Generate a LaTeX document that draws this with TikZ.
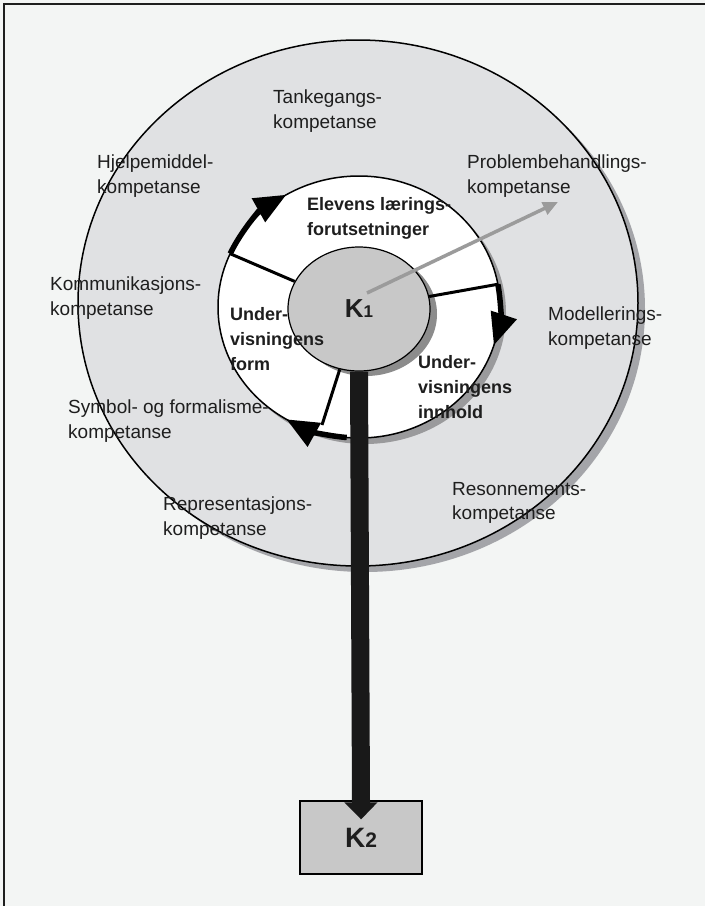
\documentclass[tikz,border=0pt]{standalone}
\usepackage{fontspec}
\setmainfont{Liberation Sans}
\usetikzlibrary{arrows.meta,shapes.geometric,calc}
\definecolor{bg}{HTML}{F3F5F4}
\definecolor{outerfill}{HTML}{E0E1E3}
\definecolor{outershadow}{HTML}{A4A5A9}
\definecolor{ringshadow}{HTML}{9A9A9C}
\definecolor{kfill}{HTML}{C8C8C8}
\definecolor{kshadow}{HTML}{8C8C8C}
\definecolor{txt}{HTML}{1E1E1E}
\definecolor{grayarrow}{HTML}{9B9B9B}
\begin{document}
\begin{tikzpicture}[x=1pt,y=1pt,
  lbl/.style={anchor=north west, inner sep=0pt, align=left, text=txt,
    font=\fontsize{19}{24.5}\selectfont},
  blbl/.style={anchor=north west, inner sep=0pt, align=left, text=txt,
    font=\fontsize{18}{25}\selectfont\bfseries},
  spoke/.style={draw=black, line width=3pt},
  ringarrow/.style={draw=black, line width=5.5pt,
    -{Triangle[length=32pt,width=26pt]}},
  bigarrow/.style={draw=black!90, line width=18pt,
    -{Triangle[length=17pt,width=32pt]}},
  kbox/.style={draw=black, line width=1.2pt, fill=kfill, inner sep=0pt, text=txt}
]
\useasboundingbox (0,0) rectangle (705,-906);
\fill[bg] (0,0) rectangle (705,-906);
% frame (top and left only)
\draw[line width=2.5pt, txt] (4,-906) -- (4,-4) -- (705,-4);

% outer ellipse with shadow
\fill[outershadow] (365,-309) ellipse [x radius=280, y radius=263];
\filldraw[fill=outerfill, draw=black, line width=1.5pt] (358,-303) ellipse [x radius=280, y radius=263];

% inner white ring with shadow
\coordinate (c) at (359,-307);
\fill[ringshadow] (365,-313) ellipse [x radius=141, y radius=131];
\filldraw[fill=white, draw=black, line width=1.5pt] (c) ellipse [x radius=141, y radius=131];

% K1 shadow
\fill[kshadow] (366,-314) ellipse [x radius=71, y radius=62];

% ring points
\coordinate (s1) at ($(c)+(156:141 and 131)$);
\coordinate (s2) at ($(c)+(10:141 and 131)$);
\coordinate (s3) at ($(c)+(-95:141 and 131)$);
\coordinate (b3) at (322,-425);

% K1 and K2
\node[kbox, ellipse, minimum width=142pt, minimum height=124pt] (K1) at (359,-309)
  {\fontsize{26}{26}\selectfont\bfseries K{\fontsize{17}{17}\selectfont 1}};
\node[kbox, rectangle, minimum width=122pt, minimum height=73pt] (K2) at (361,-837.5)
  {\fontsize{28}{28}\selectfont\bfseries K{\fontsize{21}{21}\selectfont 2}};

% spokes
\draw[spoke] (K1) -- (s1);
\draw[spoke] (K1) -- (s2);
\draw[spoke] (K1) -- (b3);

% thick arrow K1 -> K2
\draw[bigarrow, shorten >=-19pt] (K1.south) -- (K2.north);

% curved arrows along ring
\draw[ringarrow] (s1) arc[start angle=156, end angle=121, x radius=141pt, y radius=131pt];
\draw[ringarrow] (s2) arc[start angle=10, end angle=-17, x radius=141pt, y radius=131pt];
\draw[ringarrow] (s3) arc[start angle=-95, end angle=-121, x radius=141pt, y radius=131pt];

% gray arrow
\coordinate (g0) at (367,-293);
\coordinate (g1) at (558,-202);
\draw[grayarrow, line width=3.5pt, -{Triangle[length=15pt,width=13pt]}] (g0) -- (g1);

% competence labels
\node[lbl] (tank) at (273,-90) {Tankegangs-\\kompetanse};
\node[lbl] (hjelp) at (97,-155) {Hjelpemiddel-\\kompetanse};
\node[lbl] (prob) at (467,-155) {Problembehandlings-\\kompetanse};
\node[lbl] (komm) at (50,-277) {Kommunikasjons-\\kompetanse};
\node[lbl] (mod) at (548,-307) {Modellerings-\\kompetanse};
\node[lbl] (sym) at (68,-400) {Symbol- og formalisme-\\kompetanse};
\node[lbl] (rep) at (163,-497) {Representasjons-\\kompetanse};
\node[lbl] (res) at (452,-482) {Resonnements-\\kompetanse};

% bold ring labels
\node[blbl] (elev) at (307,-197) {Elevens lærings-\\forutsetninger};
\node[blbl] (form) at (230,-307) {Under-\\visningens\\form};
\node[blbl] (innh) at (418,-355) {Under-\\visningens\\innhold};
\end{tikzpicture}
\end{document}
